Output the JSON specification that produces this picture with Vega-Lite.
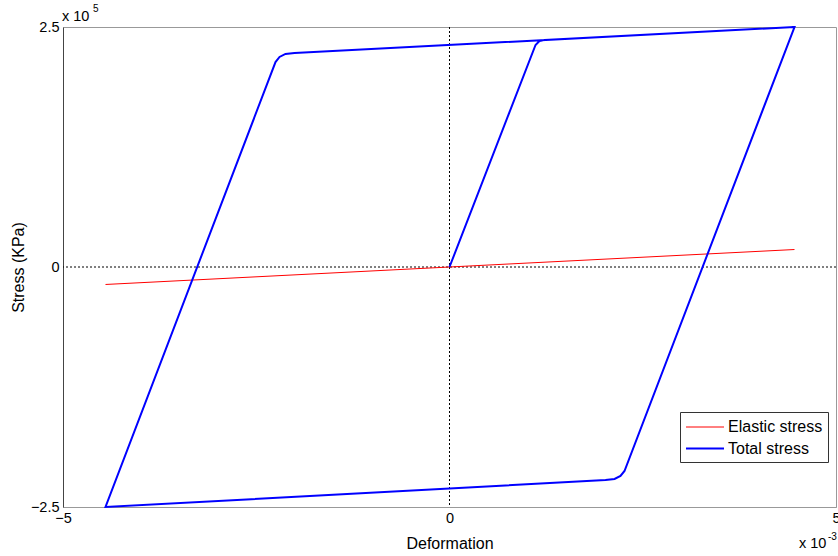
{
  "$schema": "https://vega.github.io/schema/vega-lite/v6.json",
  "width": 773,
  "height": 480,
  "autosize": {"type": "none"},
  "padding": {"left": 63, "top": 27, "right": 2, "bottom": 49},
  "background": "white",
  "config": {
    "font": "Liberation Sans",
    "view": {"stroke": "#999", "strokeWidth": 1},
    "axis": {"grid": false, "ticks": false, "labelFont": "Liberation Sans", "titleFont": "Liberation Sans", "labelColor": "#000", "titleColor": "#000", "titleFontWeight": "normal", "labelFontSize": 14.5, "titleFontSize": 16},
    "legend": {"labelFont": "Liberation Sans"}
  },
  "datasets": {
    "curves": [
      {"series": "Elastic stress", "order": 0, "deformation": -0.00445, "stress": -18200},
      {"series": "Elastic stress", "order": 1, "deformation": 0.0, "stress": 0},
      {"series": "Elastic stress", "order": 2, "deformation": 0.004463, "stress": 18200},
      {"series": "Total stress", "order": 0, "deformation": 0.0, "stress": 0},
      {"series": "Total stress", "order": 1, "deformation": 0.001113, "stress": 231300},
      {"series": "Total stress", "order": 2, "deformation": 0.001164, "stress": 235400},
      {"series": "Total stress", "order": 3, "deformation": 0.001229, "stress": 236500},
      {"series": "Total stress", "order": 4, "deformation": 0.004463, "stress": 250000},
      {"series": "Total stress", "order": 5, "deformation": 0.002264, "stress": -212500},
      {"series": "Total stress", "order": 6, "deformation": 0.002212, "stress": -217700},
      {"series": "Total stress", "order": 7, "deformation": 0.002135, "stress": -220800},
      {"series": "Total stress", "order": 8, "deformation": 0.002018, "stress": -221900},
      {"series": "Total stress", "order": 9, "deformation": -0.00445, "stress": -250000},
      {"series": "Total stress", "order": 10, "deformation": -0.002251, "stress": 213500},
      {"series": "Total stress", "order": 11, "deformation": -0.002199, "stress": 218800},
      {"series": "Total stress", "order": 12, "deformation": -0.002122, "stress": 221900},
      {"series": "Total stress", "order": 13, "deformation": -0.002005, "stress": 222900},
      {"series": "Total stress", "order": 14, "deformation": 0.004463, "stress": 250000}
    ]
  },
  "layer": [
    {
      "data": {"values": [{"v": 0}]},
      "mark": {"type": "rule", "color": "#000", "strokeWidth": 1, "strokeDash": [2, 2]},
      "encoding": {"x": {"field": "v", "type": "quantitative"}}
    },
    {
      "data": {"values": [{"v": 0}]},
      "mark": {"type": "rule", "color": "#000", "strokeWidth": 1, "strokeDash": [2, 2]},
      "encoding": {"y": {"field": "v", "type": "quantitative"}}
    },
    {
      "data": {"name": "curves"},
      "mark": {"type": "line", "clip": false},
      "encoding": {
        "x": {
          "field": "deformation", "type": "quantitative",
          "scale": {"domain": [-0.005, 0.005], "nice": false, "zero": false},
          "axis": {"title": "Deformation", "values": [-0.005, 0, 0.005], "labelExpr": "format(datum.value*1000, '.0f')", "domainColor": "#999", "labelPadding": 4, "titlePadding": 11, "labelFlush": false, "labelOverlap": false}
        },
        "y": {
          "field": "stress", "type": "quantitative",
          "scale": {"domain": [-250000, 250000], "nice": false, "zero": false},
          "axis": {"title": "Stress (KPa)", "values": [-250000, 0, 250000], "labelExpr": "format(datum.value/100000, '.1~f')", "domainColor": "#444", "labelPadding": 4, "titlePadding": 4, "labelFlush": false, "labelOverlap": false}
        },
        "order": {"field": "order", "type": "quantitative"},
        "color": {
          "field": "series", "type": "nominal",
          "scale": {"domain": ["Elastic stress", "Total stress"], "range": ["#ff0000", "#0000ff"]},
          "legend": {"title": null, "orient": "none", "legendX": 617, "legendY": 385, "strokeColor": "#333", "fillColor": "white", "padding": 5, "symbolType": "M-1,0H3", "symbolSize": 361, "labelFontSize": 16, "labelColor": "#000", "rowPadding": 3, "labelOffset": 22}
        },
        "strokeWidth": {
          "field": "series", "type": "nominal",
          "scale": {"domain": ["Elastic stress", "Total stress"], "range": [1, 2]},
          "legend": {"title": null, "orient": "none", "legendX": 617, "legendY": 385, "strokeColor": "#333", "fillColor": "white", "padding": 5, "symbolType": "M-1,0H3", "symbolSize": 361, "labelFontSize": 16, "labelColor": "#000", "rowPadding": 3, "labelOffset": 22}
        }
      }
    },
    {
      "data": {"values": [{"t": "x 10"}]},
      "mark": {"type": "text", "align": "left", "baseline": "middle", "fontSize": 14.5, "dx": -1, "dy": -10, "color": "#000"},
      "encoding": {"x": {"datum": -0.005, "type": "quantitative"}, "y": {"datum": 250000, "type": "quantitative"}, "text": {"field": "t"}}
    },
    {
      "data": {"values": [{"t": "5"}]},
      "mark": {"type": "text", "align": "left", "baseline": "middle", "fontSize": 10, "dx": 30, "dy": -18, "color": "#000"},
      "encoding": {"x": {"datum": -0.005, "type": "quantitative"}, "y": {"datum": 250000, "type": "quantitative"}, "text": {"field": "t"}}
    },
    {
      "data": {"values": [{"t": "x 10"}]},
      "mark": {"type": "text", "align": "left", "baseline": "middle", "fontSize": 14.5, "dx": -37, "dy": 37, "color": "#000"},
      "encoding": {"x": {"datum": 0.005, "type": "quantitative"}, "y": {"datum": -250000, "type": "quantitative"}, "text": {"field": "t"}}
    },
    {
      "data": {"values": [{"t": "-3"}]},
      "mark": {"type": "text", "align": "left", "baseline": "middle", "fontSize": 10, "dx": -8, "dy": 30, "color": "#000"},
      "encoding": {"x": {"datum": 0.005, "type": "quantitative"}, "y": {"datum": -250000, "type": "quantitative"}, "text": {"field": "t"}}
    }
  ]
}
